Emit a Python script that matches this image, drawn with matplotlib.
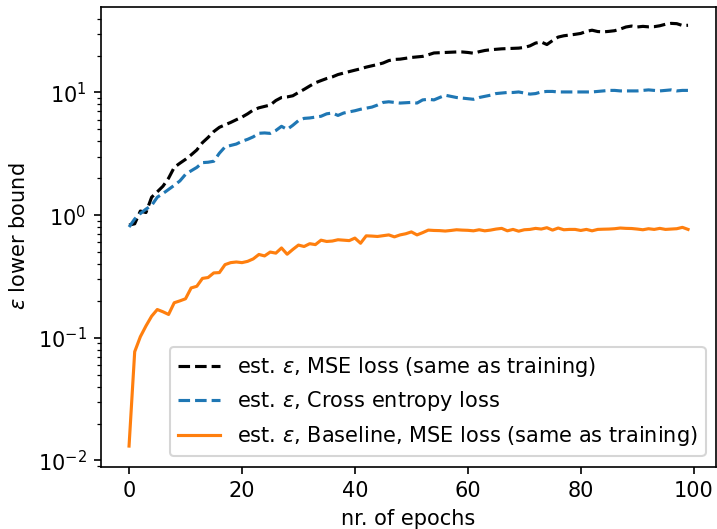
import numpy as np
import matplotlib
matplotlib.use('Agg')
from matplotlib import pyplot as plt

# estimated epsilon lower bound per epoch
mse_eps = [0.83, 0.85, 1.08, 1.05, 1.40, 1.55, 1.72, 2.0, 2.45, 2.65,
           2.85, 3.1, 3.4, 3.9, 4.3, 4.8, 5.2, 5.45, 5.7, 6.0,
           6.3, 6.7, 7.2, 7.5, 7.7, 7.9, 8.6, 9.1, 9.2, 9.4,
           10.0, 10.6, 11.3, 12.0, 12.5, 13.0, 13.4, 14.0, 14.4, 14.8,
           15.2, 15.6, 16.1, 16.5, 16.9, 17.4, 18.2, 18.6, 18.7, 19.0,
           19.3, 19.5, 19.7, 20.3, 21.0, 21.1, 21.2, 21.3, 21.4, 21.4,
           21.2, 20.9, 21.5, 22.0, 22.3, 22.5, 22.7, 22.8, 22.9, 23.0,
           23.3, 24.0, 25.3, 25.8, 24.6, 26.5, 28.3, 29.0, 29.4, 29.8,
           30.3, 31.5, 32.2, 31.4, 31.2, 31.5, 31.9, 32.9, 34.2, 34.8,
           34.2, 34.6, 34.3, 34.4, 35.0, 36.0, 36.6, 36.4, 35.2, 35.3]

ce_eps = [0.80, 0.93, 1.03, 1.12, 1.20, 1.40, 1.50, 1.62, 1.75, 1.90,
          2.15, 2.30, 2.45, 2.68, 2.70, 2.75, 3.2, 3.6, 3.7, 3.8,
          4.0, 4.15, 4.35, 4.65, 4.68, 4.64, 4.9, 5.3, 5.0, 5.4,
          5.9, 6.15, 6.2, 6.3, 6.4, 6.7, 6.8, 6.5, 6.8, 6.95,
          7.1, 7.3, 7.45, 7.6, 7.9, 8.3, 8.4, 8.3, 8.2, 8.25,
          8.3, 8.2, 8.7, 8.8, 8.7, 9.1, 9.5, 9.3, 9.1, 9.0,
          8.9, 8.8, 9.1, 9.3, 9.5, 9.8, 9.9, 10.0, 10.0, 10.1,
          9.9, 9.7, 9.8, 10.1, 10.2, 10.2, 10.1, 10.1, 10.1, 10.1,
          10.1, 10.1, 10.1, 10.2, 10.3, 10.4, 10.4, 10.3, 10.3, 10.3,
          10.3, 10.4, 10.5, 10.4, 10.3, 10.4, 10.5, 10.3, 10.4, 10.4]

baseline_eps = [0.0131, 0.077, 0.102, 0.125, 0.150, 0.170, 0.163, 0.155, 0.193, 0.200,
                0.208, 0.255, 0.263, 0.305, 0.31, 0.338, 0.340, 0.395, 0.41, 0.415,
                0.41, 0.42, 0.44, 0.478, 0.465, 0.50, 0.49, 0.54, 0.48, 0.525,
                0.57, 0.555, 0.585, 0.575, 0.625, 0.61, 0.615, 0.63, 0.625, 0.62,
                0.65, 0.59, 0.678, 0.675, 0.67, 0.68, 0.69, 0.665, 0.69, 0.705,
                0.73, 0.69, 0.72, 0.755, 0.75, 0.748, 0.742, 0.75, 0.76, 0.755,
                0.752, 0.745, 0.76, 0.745, 0.755, 0.77, 0.78, 0.745, 0.765, 0.74,
                0.76, 0.765, 0.78, 0.77, 0.79, 0.755, 0.785, 0.76, 0.765, 0.765,
                0.75, 0.765, 0.745, 0.765, 0.768, 0.77, 0.775, 0.785, 0.78, 0.778,
                0.77, 0.76, 0.775, 0.765, 0.78, 0.765, 0.77, 0.775, 0.795, 0.765]

epochs = np.arange(len(mse_eps))

fig, ax = plt.subplots(figsize=(7.17 / 1.5, 5.29 / 1.5), dpi=150)
fig.subplots_adjust(left=0.141, right=0.9986, bottom=0.118, top=0.987)

ax.plot(epochs, mse_eps, 'k--', label=r'est. $\varepsilon$, MSE loss (same as training)')
ax.plot(epochs, ce_eps, '--', color='tab:blue', label=r'est. $\varepsilon$, Cross entropy loss')
ax.plot(epochs, baseline_eps, '-', color='tab:orange',
        label=r'est. $\varepsilon$, Baseline, MSE loss (same as training)')
ax.set_yscale('log')
ax.set_ylim(10 ** -2.05, 10 ** 1.698)
ax.set_xlabel('nr. of epochs')
ax.set_ylabel(r'$\varepsilon$ lower bound')
ax.legend(loc='lower right')

fig.savefig('out.png', dpi=150)
